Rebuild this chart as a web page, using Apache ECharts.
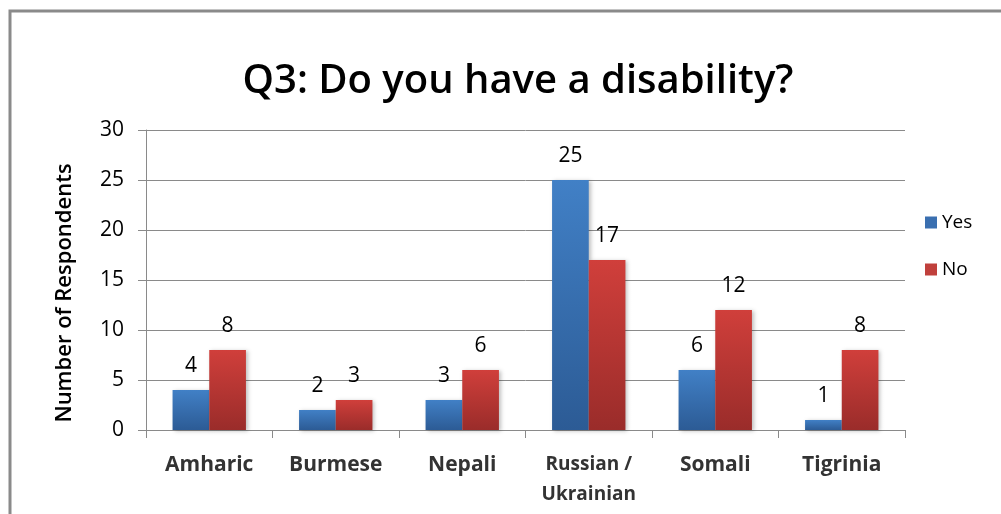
<!DOCTYPE html>
<html>
<head>
<meta charset="utf-8">
<script src="https://cdn.jsdelivr.net/npm/echarts@6/dist/echarts.min.js"></script>
<style>
  html, body { margin: 0; padding: 0; background: #fff; }
  #chart { width: 1001px; height: 514px; }
</style>
</head>
<body>
<div id="chart"></div>
<script>
// Survey responses by language group
const categories = ['Amharic', 'Burmese', 'Nepali', 'Russian /\nUkrainian', 'Somali', 'Tigrinia'];
const yesValues = [4, 2, 3, 25, 6, 1];
const noValues = [8, 3, 6, 17, 12, 8];
const yTicks = { min: 0, max: 30, interval: 5 };

const FONT = '"Open Sans", "Noto Sans", sans-serif';

function vGrad(top, bottom) {
  return new echarts.graphic.LinearGradient(0, 0, 0, 1, [
    { offset: 0, color: top },
    { offset: 1, color: bottom }
  ]);
}

const labelStyle = {
  show: true,
  position: 'top',
  distance: 13,
  color: '#000',
  fontFamily: FONT,
  fontSize: 21
};

const chart = echarts.init(document.getElementById('chart'), null, { renderer: 'canvas' });

chart.setOption({
  animation: false,
  backgroundColor: '#fff',
  graphic: [{
    type: 'rect',
    shape: { x: 10, y: 11, width: 1010, height: 520 },
    style: { fill: 'none', stroke: '#8a8a8a', lineWidth: 3 },
    silent: true
  }],
  title: {
    text: 'Q3: Do you have a disability?',
    left: 513,
    textAlign: 'center',
    top: 57,
    textStyle: { fontFamily: FONT, fontSize: 40, fontWeight: 600, color: '#000' }
  },
  legend: {
    orient: 'vertical',
    left: 920,
    top: 208,
    itemGap: 28,
    itemWidth: 12,
    itemHeight: 12,
    icon: 'rect',
    textStyle: { fontFamily: FONT, fontSize: 19, color: '#000', padding: [0, 0, 0, 0] },
    data: [
      { name: 'Yes', itemStyle: { color: '#3a6fb0' } },
      { name: 'No', itemStyle: { color: '#c0403c' } }
    ]
  },
  grid: { left: 146, right: 96, top: 130, bottom: 84 },
  xAxis: {
    type: 'category',
    data: categories,
    axisLine: { lineStyle: { color: '#8a8a8a', width: 1 } },
    axisTick: { show: true, length: 8, lineStyle: { color: '#8a8a8a' } },
    axisLabel: {
      margin: 20,
      fontFamily: FONT,
      fontSize: 21,
      fontWeight: 'bold',
      color: '#333',
      interval: 0,
      lineHeight: 30,
      formatter: function (v) {
        return v.indexOf('\n') >= 0 ? '{s|' + v.replace('\n', '}\n{s|') + '}' : v;
      },
      rich: { s: { fontFamily: FONT, fontSize: 19, fontWeight: 'bold', color: '#333', lineHeight: 30 } }
    }
  },
  yAxis: {
    type: 'value',
    min: yTicks.min,
    max: yTicks.max,
    interval: yTicks.interval,
    name: 'Number of Respondents',
    nameLocation: 'middle',
    nameGap: 70,
    nameTextStyle: { fontFamily: FONT, fontSize: 22, fontWeight: 600, color: '#000', padding: [0, 26, 0, 0] },
    axisLine: { show: true, lineStyle: { color: '#8a8a8a', width: 1 } },
    axisTick: { show: true, length: 8, lineStyle: { color: '#8a8a8a' } },
    axisLabel: { margin: 22, fontFamily: FONT, fontSize: 21, color: '#000' },
    splitLine: { lineStyle: { color: '#8a8a8a', width: 1 } }
  },
  series: [
    {
      name: 'Yes',
      type: 'bar',
      data: yesValues,
      barGap: '0%',
      barCategoryGap: '42%',
      itemStyle: {
        color: vGrad('#4180c6', '#2c5b95'),
        shadowColor: 'rgba(0,0,0,0.25)',
        shadowBlur: 4,
        shadowOffsetX: 2,
        shadowOffsetY: 1
      },
      label: labelStyle
    },
    {
      name: 'No',
      type: 'bar',
      data: noValues,
      itemStyle: {
        color: vGrad('#d03f3b', '#9a2c2a'),
        shadowColor: 'rgba(0,0,0,0.25)',
        shadowBlur: 4,
        shadowOffsetX: 2,
        shadowOffsetY: 1
      },
      label: labelStyle
    }
  ]
});
</script>
</body>
</html>
